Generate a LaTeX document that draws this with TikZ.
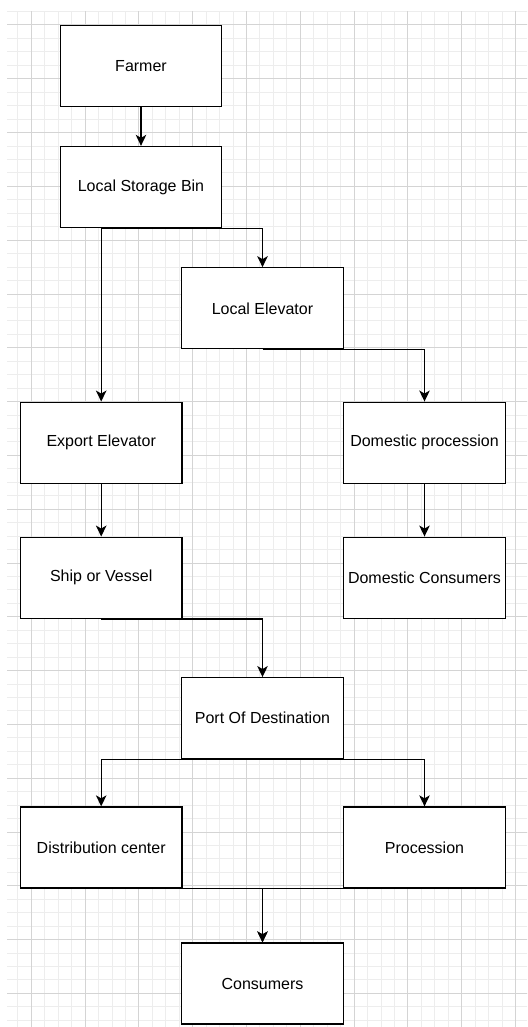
\documentclass[tikz,border=0pt]{standalone}
\usepackage{fontspec}
\setmainfont{Liberation Sans}
\usetikzlibrary{arrows.meta}

\tikzset{
    stage/.style={draw, line width=1.3pt, fill=white, minimum width=161.5pt, minimum height=81pt, inner sep=0pt, font=\fontsize{16}{19}\selectfont},
    flow/.style={->, line width=1.3pt},
    gridminor/.style={draw=black!7, line width=1pt},
    gridmajor/.style={draw=black!17, line width=1pt}
}

\begin{document}
\begin{tikzpicture}[>={Stealth[length=11pt, width=10.5pt, inset=3pt]}, x=1pt, y=-1pt]
        \useasboundingbox[fill=white] (0,0) rectangle (527,1027);
        \begin{scope}
            \clip (7,12) rectangle (527,1027);
            \draw[gridminor, shift={(31.3,25)}, step=13.45pt] (-40,-30) grid (510,1010);
            \draw[gridmajor, shift={(31.3,25)}, step=53.8pt] (-40,-30) grid (510,1010);
        \end{scope}
        \node[stage] (farmer) at (141,66){Farmer};
        \node[stage] (bin) at (141,187){Local Storage Bin};
        \node[stage] (localelev) at (262.5,308.3){Local Elevator};
        \node[stage] (exportelev) at (101.2,442.7){Export Elevator};
        \node[stage] (domproc) at (424.5,442.7){Domestic procession};
        \node[stage] (ship) at (101.2,577.7){Ship or Vessel};
        \node[stage] (domcons) at (424.5,577.7){Domestic Consumers};
        \node[stage] (port) at (262.5,718.2){Port Of Destination};
        \node[stage] (distrib) at (101.2,847.5){Distribution center};
        \node[stage] (proc) at (424.5,847.5){Procession};
        \node[stage] (consumers) at (262.5,983.5){Consumers};
        \coordinate (binout) at (bin.south -| exportelev.north);
        \draw[flow] (farmer) -- (bin);
        \draw[flow] (binout) -- (exportelev.north);
        \draw[flow] (binout) -| (localelev.north);
        \draw[flow] (localelev.south) -| (domproc.north);
        \draw[flow] (exportelev) -- (ship);
        \draw[flow] (domproc) -- (domcons);
        \draw[flow] (ship.south) -| (port.north);
        \draw[flow] (port.south) -| (distrib.north);
        \draw[flow] (port.south) -| (proc.north);
        \draw[flow] (distrib.south) -| (consumers.north);
        \draw[flow] (proc.south) -| (consumers.north);
    \end{tikzpicture}
\end{document}
